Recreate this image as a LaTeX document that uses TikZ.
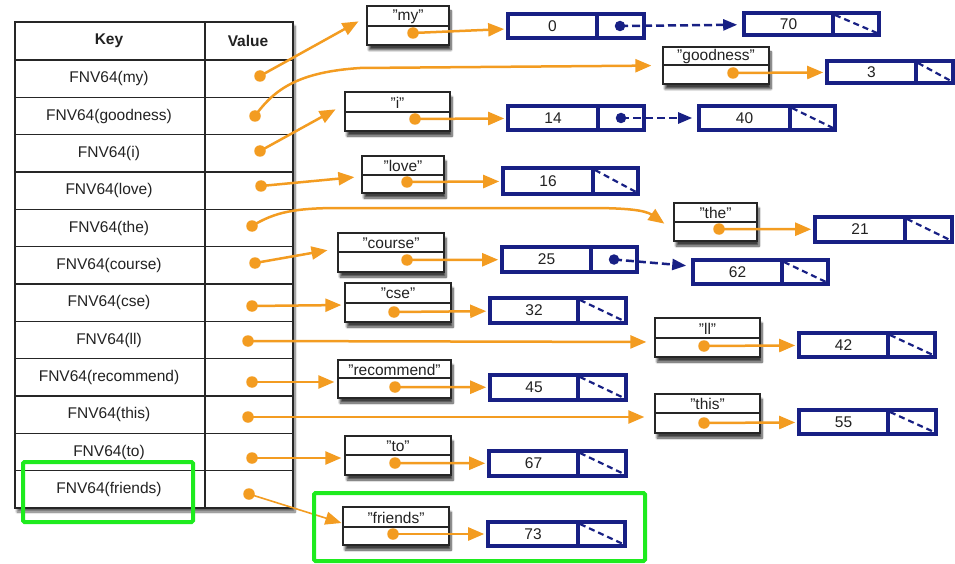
\documentclass[tikz,border=0pt]{standalone}
\usepackage{fontspec}
\setmainfont{Liberation Sans}
\usetikzlibrary{arrows.meta,shadows.blur}

\definecolor{ora}{RGB}{243,156,33}
\definecolor{nav}{RGB}{24,32,132}
\definecolor{grn}{RGB}{30,235,30}
\definecolor{txt}{RGB}{34,34,34}

\tikzset{
  lab/.style={font=\fontsize{15.5}{16}\selectfont, text=txt, inner sep=0pt},
  hdr/.style={font=\fontsize{15.5}{16}\selectfont\bfseries, text=txt, inner sep=0pt},
  tbl/.style={draw=black!85, fill=white, line width=1.3pt, inner sep=0pt,
    blur shadow={shadow xshift=2pt, shadow yshift=-4pt, shadow blur steps=8, shadow opacity=60}},
  grid/.style={draw=black!85, line width=1.1pt},
  sbox/.style={draw=black!85, fill=white, line width=1.3pt, inner sep=0pt,
    blur shadow={shadow xshift=2pt, shadow yshift=-5pt, shadow blur steps=8, shadow opacity=75}},
  nbox/.style={draw=nav, fill=white, line width=3.6pt, inner sep=0pt},
  odot/.style={circle, fill=ora, inner sep=0pt, minimum size=11.5pt},
  ndot/.style={circle, fill=nav, inner sep=0pt, minimum size=10.5pt},
  oarr/.style={draw=ora, line width=2.5pt, -{Triangle[length=16pt,width=13pt]}},
  narr/.style={draw=nav, line width=2.5pt, dash pattern=on 8pt off 4pt,
    -{Triangle[length=14pt,width=11pt]}},
  nil/.style={draw=nav, line width=2.2pt, dash pattern=on 6pt off 4pt},
  hl/.style={draw=grn, line width=4pt, rounded corners=1.5pt},
}

% string entry: name, left, top, right, bottom, divider, label, dot x, dot y
\newcommand\strbox[9]{%
  \node[sbox, minimum width={(#4-#2)*1pt}, minimum height={(#5-#3)*1pt}]
    (s-#1) at ({(#2+#4)/2},{(#3+#5)/2}) {};
  \draw[line width=1.1pt, black!85] (#2,#6) -- (#4,#6);
  \node[lab] (s-#1-t) at ({(#2+#4)/2},{(#3+#6)/2+0.5}) {"#7"};
  \node[odot] (s-#1-d) at (#8,#9) {};
}
% list cell: name, left, top, right, bottom, divider, number
\newcommand\cellbox[7]{%
  \node[nbox, minimum width={(#4-#2)*1pt}, minimum height={(#5-#3)*1pt}]
    (n-#1) at ({(#2+#4)/2},{(#3+#5)/2}) {};
  \draw[nav, line width=3.2pt] (#6,#3) -- (#6,#5);
  \node[lab] (n-#1-t) at ({(#2+#6)/2},{(#3+#5)/2}) {#7};
}
\newcommand\nilbox[7]{%
  \cellbox{#1}{#2}{#3}{#4}{#5}{#6}{#7}%
  \draw[nil] ({#6+2},{#3+2}) -- ({#4-2},{#5-2});
}
\newcommand\ptrbox[7]{%
  \cellbox{#1}{#2}{#3}{#4}{#5}{#6}{#7}%
  \node[ndot] (n-#1-p) at ({#6+23},{(#3+#5)/2}) {};
}

\begin{document}
\begin{tikzpicture}[x=1pt, y=-1pt]
\useasboundingbox (0,0) rectangle (955,564);

% hash table
\node[tbl, minimum width=278pt, minimum height=486pt] (table) at (154,265) {};
\draw[grid] (205,22) -- (205,508);
\foreach \k in {0,...,11} \draw[grid] (15,{60+37.333*\k}) -- (293,{60+37.333*\k});
\node[hdr] (hk) at (109,41) {Key};
\node[hdr] (hv) at (248,41) {Value};
\foreach \w/\vx/\vy [count=\k] in {my/260/76, goodness/255/116, i/260/151, love/261/186,
    the/252/226, course/255/263, cse/252/306, ll/248/341, recommend/252/382,
    this/248/417, to/252/458, friends/249/494} {
  \node[lab] (key-\w) at (109,{60+37.333*(\k-0.5)}) {FNV64(\w)};
  \node[odot] (v-\w) at (\vx,\vy) {};
}

% string entries
\strbox{my}{367}{6}{449}{45}{26}{my}{413}{33}
\strbox{goodness}{663}{47}{769}{84}{65}{goodness}{733}{73}
\strbox{i}{345}{92}{450}{131}{112}{i}{415}{119}
\strbox{love}{362}{156}{444}{193}{175}{love}{407}{182}
\strbox{the}{674}{203}{757}{241}{222}{the}{719}{229}
\strbox{course}{338}{233}{444}{272}{252}{course}{407}{260}
\strbox{cse}{345}{283}{451}{322}{303}{cse}{394}{312}
\strbox{ll}{655}{318}{760}{357}{338}{ll}{704}{346}
\strbox{recommend}{338}{360}{451}{398}{378}{recommend}{395}{387}
\strbox{this}{655}{394}{760}{433}{413}{this}{704}{423}
\strbox{to}{345}{436}{451}{475}{455}{to}{395}{463}
\strbox{friends}{343}{507}{449}{545}{527}{friends}{393}{534}

% position lists
\ptrbox{0}{508}{14}{644}{38}{597}{0}
\nilbox{70}{744}{13}{879}{35}{833}{70}
\nilbox{3}{827}{61}{953}{83}{916}{3}
\ptrbox{14}{508}{106}{644}{130}{598}{14}
\nilbox{40}{699}{106}{835}{130}{790}{40}
\nilbox{16}{503}{168}{638}{194}{593}{16}
\nilbox{21}{815}{217}{952}{242}{905}{21}
\ptrbox{25}{502}{247}{637}{272}{591}{25}
\nilbox{62}{693}{260}{828}{284}{782}{62}
\nilbox{32}{490}{298}{626}{323}{578}{32}
\nilbox{42}{799}{333}{935}{357}{888}{42}
\nilbox{45}{490}{375}{626}{400}{578}{45}
\nilbox{55}{799}{410}{936}{434}{888}{55}
\nilbox{67}{489}{451}{626}{476}{578}{67}
\nilbox{73}{488}{522}{625}{546}{578}{73}

% table -> string entries
\draw[oarr, shorten >=9pt] (v-my.center) -- ([yshift=8.5pt]s-my.west);
\draw[oarr, shorten >=11pt] (v-goodness.center) .. controls (275,88) and (300,72) .. (360,68)
  -- (s-goodness.west);
\draw[oarr, shorten >=10pt] (v-i.center) -- ([yshift=7pt]s-i.west);
\draw[oarr, shorten >=7pt] (v-love.center) -- ([yshift=-2pt]s-love.west);
\draw[oarr, shorten >=11pt] (v-the.center) .. controls (275,212) and (295,208) .. (340,208)
  -- (590,208) .. controls (625,208) and (645,210) .. ([yshift=-8pt]s-the.west);
\draw[oarr, shorten >=10pt] (v-course.center) -- ([yshift=4pt]s-course.west);
\draw[oarr, shorten >=3pt] (v-cse.center) -- ([yshift=-2.5pt]s-cse.west);
\draw[oarr, shorten >=8pt] (v-ll.center) -- ([yshift=-4.5pt]s-ll.west);
\draw[oarr, shorten >=3pt] (v-recommend.center) -- ([yshift=-3pt]s-recommend.west);
\draw[oarr, shorten >=10pt] (v-this.center) -- ([yshift=-3.5pt]s-this.west);
\draw[oarr, shorten >=3pt] (v-to.center) -- ([yshift=-2.5pt]s-to.west);
\draw[oarr, line width=1.6pt, shorten >=1pt] (v-friends.center) -- ([yshift=2.7pt]s-friends.west);

% string entries -> position lists
\foreach \s/\n in {my/0, goodness/3, i/14, love/16, the/21, course/25, cse/32,
    ll/42, recommend/45, this/55, to/67, friends/73}
  \draw[oarr, shorten >=2pt] (s-\s-d.center) -- (n-\n);

% list links
\draw[narr, shorten >=5pt] (n-0-p.center) -- (n-70);
\draw[narr, shorten >=5pt] (n-14-p.center) -- (n-40);
\draw[narr, shorten >=5pt] (n-25-p.center) -- (n-62);

% highlights
\draw[hl] (23,462) rectangle (193,522);
\draw[hl] (314,493) rectangle (645,561);
\end{tikzpicture}
\end{document}
